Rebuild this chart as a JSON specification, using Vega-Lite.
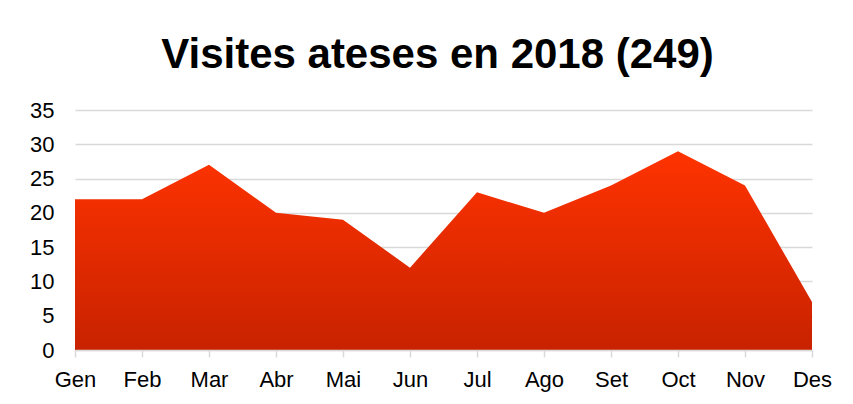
{
  "$schema": "https://vega.github.io/schema/vega-lite/v6.json",
  "width": 737,
  "height": 240,
  "autosize": {"type": "none"},
  "padding": {"left": 75, "top": 110, "right": 41, "bottom": 54},
  "background": "white",
  "config": {"view": {"stroke": null}, "font": "Liberation Sans"},
  "title": {
    "text": "Visites ateses en 2018 (249)",
    "fontSize": 42,
    "fontWeight": "bold",
    "font": "Liberation Sans",
    "color": "#000000",
    "anchor": "middle",
    "dx": -6,
    "offset": 22
  },
  "data": {
    "values": [
      {"mes": "Gen", "visites": 22},
      {"mes": "Feb", "visites": 22},
      {"mes": "Mar", "visites": 27},
      {"mes": "Abr", "visites": 20},
      {"mes": "Mai", "visites": 19},
      {"mes": "Jun", "visites": 12},
      {"mes": "Jul", "visites": 23},
      {"mes": "Ago", "visites": 20},
      {"mes": "Set", "visites": 24},
      {"mes": "Oct", "visites": 29},
      {"mes": "Nov", "visites": 24},
      {"mes": "Des", "visites": 7}
    ]
  },
  "mark": {
    "type": "area",
    "color": {
      "gradient": "linear",
      "x1": 0, "y1": 0, "x2": 0, "y2": 1,
      "stops": [
        {"offset": 0, "color": "#FF3300"},
        {"offset": 1, "color": "#C82200"}
      ]
    }
  },
  "encoding": {
    "x": {
      "field": "mes",
      "type": "ordinal",
      "sort": null,
      "scale": {"type": "point", "padding": 0},
      "axis": {
        "title": null,
        "labelAngle": 0,
        "labelFontSize": 22,
        "labelColor": "#000000",
        "labelPadding": 12,
        "tickSize": 7,
        "tickColor": "#d9d9d9",
        "tickWidth": 1.5,
        "domainColor": "#d9d9d9",
        "domainWidth": 1.5,
        "grid": false,
        "zindex": 1
      }
    },
    "y": {
      "field": "visites",
      "type": "quantitative",
      "scale": {"domain": [0, 35], "nice": false},
      "axis": {
        "title": null,
        "values": [0, 5, 10, 15, 20, 25, 30, 35],
        "labelFontSize": 22,
        "labelColor": "#000000",
        "labelPadding": 21,
        "ticks": false,
        "domain": false,
        "grid": true,
        "gridColor": "#d9d9d9",
        "gridWidth": 1.5
      }
    }
  }
}
